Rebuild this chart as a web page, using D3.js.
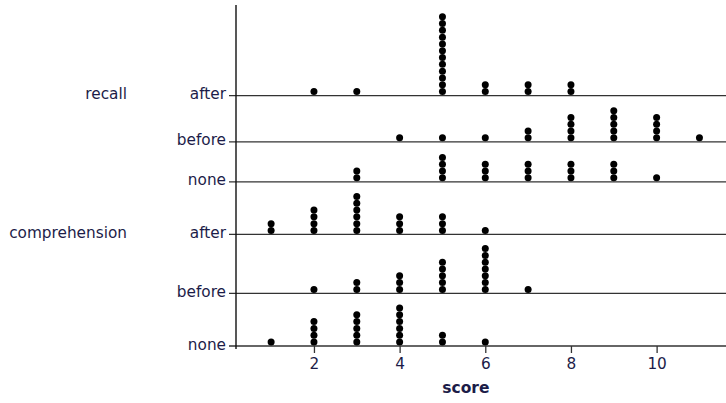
<!DOCTYPE html>
<html>
<head>
<meta charset="utf-8">
<script src="https://cdn.jsdelivr.net/npm/d3@7"></script>
<style>
  html, body { margin: 0; padding: 0; background: #fff; }
  svg { display: block; }
  text { font-family: "DejaVu Sans", Verdana, sans-serif; fill: #1c1c48; }
</style>
</head>
<body>
<svg id="chart" width="726" height="403"></svg>
<script>
// Score values on the horizontal axis
const scores = [1, 2, 3, 4, 5, 6, 7, 8, 9, 10, 11];
const scoreTicks = [2, 4, 6, 8, 10];

// Task groups and conditions (top to bottom)
const groups = ["recall", "comprehension"];
const conditions = ["after", "before", "none"];

// Number of subjects with each score, per group and condition
const recallAfter         = [0, 1, 1, 0, 12, 2, 2, 2, 0, 0, 0];
const recallBefore        = [0, 0, 0, 1, 1, 1, 2, 4, 5, 4, 1];
const recallNone          = [0, 0, 2, 0, 4, 3, 3, 3, 3, 1, 0];
const comprehensionAfter  = [2, 4, 6, 3, 3, 1, 0, 0, 0, 0, 0];
const comprehensionBefore = [0, 1, 2, 3, 5, 7, 1, 0, 0, 0, 0];
const comprehensionNone   = [1, 4, 5, 6, 2, 1, 0, 0, 0, 0, 0];

const panels = [
  { group: "recall", condition: "after", counts: recallAfter },
  { group: "recall", condition: "before", counts: recallBefore },
  { group: "recall", condition: "none", counts: recallNone },
  { group: "comprehension", condition: "after", counts: comprehensionAfter },
  { group: "comprehension", condition: "before", counts: comprehensionBefore },
  { group: "comprehension", condition: "none", counts: comprehensionNone }
];
panels.forEach(p => { p.key = p.group + "-" + p.condition; });

const svg = d3.select("#chart");
const plotLeft = 236, plotRight = 726, plotTop = 5, plotBottom = 346;
const dotR = 3.5, dotStep = 6.8, dotLift = 4;
const labelSize = "15.3px";

const x = d3.scaleLinear().domain([0.18, 11.62]).range([plotLeft, plotRight]);

// Each strip gets a height that grows with its tallest stack
const weights = panels.map(p => 6.3 * d3.max(p.counts) + 14.6);
const totalW = d3.sum(weights);
const hScale = d3.scaleLinear().domain([0, totalW]).range([plotTop, plotBottom]);
let acc = 0;
panels.forEach((p, i) => { acc += weights[i]; p.baseline = hScale(acc); });

const yBase = d3.scaleOrdinal().domain(panels.map(p => p.key)).range(panels.map(p => p.baseline));

// Strip baselines
svg.append("g")
  .selectAll("line")
  .data(panels)
  .join("line")
  .attr("x1", plotLeft - 7)
  .attr("x2", plotRight)
  .attr("y1", d => yBase(d.key))
  .attr("y2", d => yBase(d.key))
  .attr("stroke", "#333")
  .attr("stroke-width", 1.3);

// Vertical axis line
svg.append("line")
  .attr("x1", plotLeft).attr("x2", plotLeft)
  .attr("y1", plotTop).attr("y2", plotBottom + 3)
  .attr("stroke", "#111")
  .attr("stroke-width", 1.4);

// Condition labels
const yAxis = d3.axisLeft(yBase)
  .tickSize(0)
  .tickPadding(10)
  .tickFormat(k => panels.find(p => p.key === k).condition);
const yg = svg.append("g").attr("transform", `translate(${plotLeft},0)`).call(yAxis);
yg.select(".domain").remove();
yg.selectAll("text")
  .attr("font-size", labelSize)
  .attr("font-family", "DejaVu Sans, Verdana, sans-serif")
  .attr("fill", "#1c1c48")
  .attr("dy", "0.2em");

// Group labels beside their first strip
svg.append("g")
  .selectAll("text")
  .data(groups)
  .join("text")
  .attr("x", 127)
  .attr("y", g => yBase(panels.find(p => p.group === g).key))
  .attr("dy", "0.2em")
  .attr("text-anchor", "end")
  .attr("font-size", labelSize)
  .text(g => g);

// Horizontal score axis
const xAxis = d3.axisBottom(x).tickValues(scoreTicks).tickSize(7).tickPadding(5).tickSizeOuter(0);
const xg = svg.append("g").attr("transform", `translate(0,${plotBottom})`).call(xAxis);
xg.select(".domain").remove();
xg.selectAll(".tick line").attr("stroke", "#333").attr("stroke-width", 1.3);
xg.selectAll("text")
  .attr("font-size", labelSize)
  .attr("font-family", "DejaVu Sans, Verdana, sans-serif")
  .attr("fill", "#1c1c48");

svg.append("text")
  .attr("x", x(5.5) + 2)
  .attr("y", 393)
  .attr("text-anchor", "middle")
  .attr("font-size", "15.5px")
  .attr("font-weight", "bold")
  .attr("fill", "#111")
  .text("score");

// Stacked dots: one per subject
const dots = [];
panels.forEach(p => {
  p.counts.forEach((n, i) => {
    for (let k = 0; k < n; k++) dots.push({ key: p.key, score: scores[i], level: k });
  });
});
const stack = d3.scaleLinear().domain([0, 1]).range([dotLift, dotLift + dotStep]);

svg.append("g")
  .selectAll("circle")
  .data(dots)
  .join("circle")
  .attr("cx", d => x(d.score))
  .attr("cy", d => yBase(d.key) - stack(d.level))
  .attr("r", dotR)
  .attr("fill", "#000");
</script>
</body>
</html>
